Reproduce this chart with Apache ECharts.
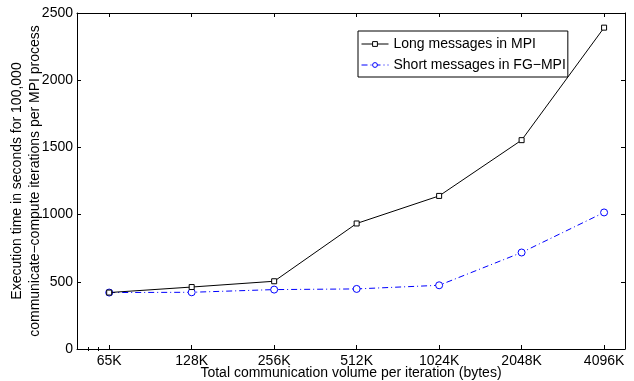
<!DOCTYPE html>
<html>
<head>
<meta charset="utf-8">
<script src="https://cdn.jsdelivr.net/npm/echarts@6/dist/echarts.min.js"></script>
<style>html,body{margin:0;padding:0;background:#fff}#c{width:634px;height:381px}</style>
</head>
<body>
<div id="c"></div>
<script>
const categories = ['65K', '128K', '256K', '512K', '1024K', '2048K', '4096K'];
const longMPI = [420, 461, 504, 934, 1139, 1554, 2391];
const shortFGMPI = [420, 422, 442, 447, 474, 718, 1016];
const yTicks = [0, 500, 1000, 1500, 2000, 2500];
const seriesNames = ['Long messages in MPI', 'Short messages in FG\u2212MPI'];
const xTitle = 'Total communication volume per iteration (bytes)';
const yTitle = 'Execution time in seconds for 100,000\ncommunicate\u2212compute iterations per MPI process';

// x axis is log2 of bytes; category index i corresponds to 64KiB * 2^i; limits 50e3 .. 5e6 bytes
const xMin = Math.log2(50000 / 65536);
const xMax = 6 + Math.log2(5e6 / 4194304);
const majorIdx = categories.map((c, i) => i);
const minorIdx = [Math.log2(55000 / 65536), Math.log2(60000 / 65536)];

const FONT = 'Liberation Sans, Arial, Helvetica, sans-serif';
const chart = echarts.init(document.getElementById('c'), null, {renderer: 'canvas'});

const tickAxis = (pos, vals, len, extra) => Object.assign({
  type: 'value', position: pos, min: xMin, max: xMax,
  axisLine: {show: true, onZero: false, lineStyle: {color: '#000', width: 1}},
  axisTick: {show: true, inside: true, length: len, customValues: vals, lineStyle: {color: '#000', width: 1}},
  axisLabel: {show: false, customValues: vals},
  splitLine: {show: false}
}, extra || {});

const yAxisBase = (pos, extra) => Object.assign({
  type: 'value', position: pos, min: 0, max: 2500, interval: 500,
  axisLine: {show: true, onZero: false, lineStyle: {color: '#000', width: 1}},
  axisTick: {show: true, inside: true, length: 4, lineStyle: {color: '#000'}},
  axisLabel: {show: false},
  splitLine: {show: false}
}, extra || {});

chart.setOption({
  animation: false,
  backgroundColor: '#fff',
  grid: {left: 77, right: 9, top: 13, bottom: 32, show: false, containLabel: false, outerBoundsMode: 'none'},
  legend: {
    left: 358, top: 31, orient: 'vertical',
    backgroundColor: '#fff', borderColor: '#000', borderWidth: 1,
    padding: [6, 2, 5, 3], itemGap: 7, itemWidth: 27, itemHeight: 6,
    lineStyle: {width: 1},
    itemStyle: {borderWidth: 1},
    textStyle: {fontFamily: FONT, fontSize: 14, color: '#000'},
    data: seriesNames
  },
  xAxis: [
    tickAxis('bottom', majorIdx, 4, {
      name: xTitle, nameLocation: 'middle', nameGap: 17, nameMoveOverlap: false,
      nameTextStyle: {fontFamily: FONT, fontSize: 14, color: '#000', verticalAlign: 'top'},
      axisLabel: {show: true, customValues: majorIdx, margin: 5,
        formatter: v => categories[Math.round(v)],
        fontFamily: FONT, fontSize: 14, color: '#000'}
    }),
    tickAxis('top', majorIdx, 4),
    tickAxis('bottom', minorIdx, 2, {axisLine: {show: false}}),
    tickAxis('top', minorIdx, 2, {axisLine: {show: false}})
  ],
  yAxis: [
    yAxisBase('left', {
      name: yTitle, nameLocation: 'middle', nameRotate: 90, nameGap: 33, nameMoveOverlap: false,
      nameTextStyle: {fontFamily: FONT, fontSize: 14, color: '#000', lineHeight: 18, align: 'center'},
      axisLabel: {show: true, fontFamily: FONT, fontSize: 14, color: '#000', margin: 4,
        formatter: v => String(yTicks[yTicks.indexOf(v)])}
    }),
    yAxisBase('right')
  ],
  series: [
    {
      name: seriesNames[0], type: 'line', xAxisIndex: 0, yAxisIndex: 0,
      data: longMPI.map((v, i) => [i, v]),
      symbol: 'rect', symbolSize: 5, showAllSymbol: true,
      lineStyle: {color: '#000', width: 1, type: 'solid'},
      itemStyle: {color: '#fff', borderColor: '#000', borderWidth: 1},
      z: 3
    },
    {
      name: seriesNames[1], type: 'line', xAxisIndex: 0, yAxisIndex: 0,
      data: shortFGMPI.map((v, i) => [i, v]),
      symbol: 'circle', symbolSize: 7, showAllSymbol: true,
      lineStyle: {color: '#0000ff', width: 1, type: [6, 3, 1, 3]},
      itemStyle: {color: '#fff', borderColor: '#0000ff', borderWidth: 1},
      z: 2
    }
  ]
});
</script>
</body>
</html>
